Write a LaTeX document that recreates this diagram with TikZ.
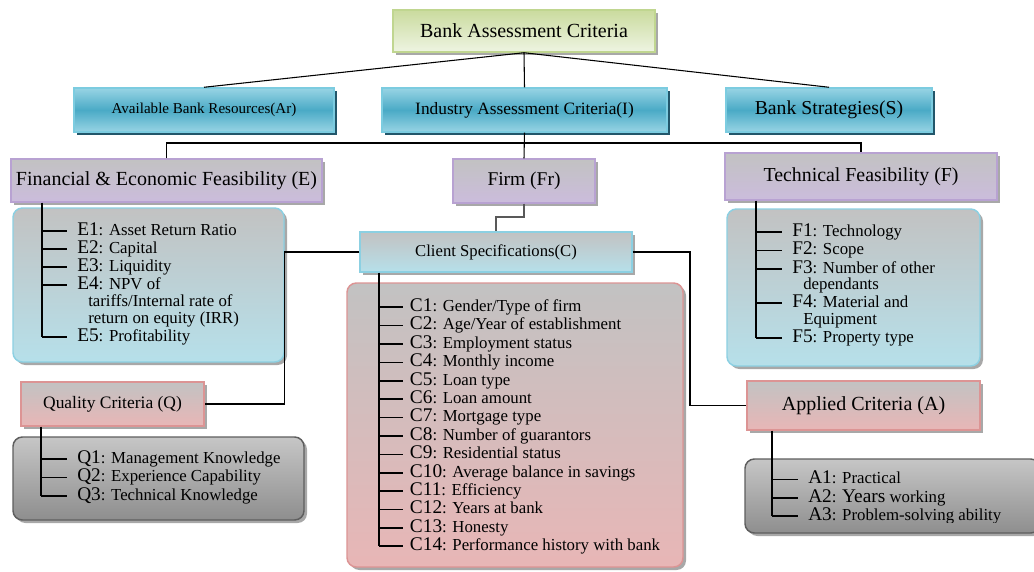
\documentclass[tikz,border=0pt]{standalone}
\usepackage{fontspec}
\setmainfont{Liberation Serif}
\usetikzlibrary{shadows}
\definecolor{grB}{HTML}{C0D690}
\definecolor{grT}{HTML}{CADB9E}
\definecolor{grM}{HTML}{EEF4E2}
\definecolor{tlB}{HTML}{7CCCE0}
\definecolor{tlT}{HTML}{98D4E4}
\definecolor{tlM}{HTML}{4AAAC6}
\definecolor{cShTeal}{HTML}{22566A}
\definecolor{cShGray}{HTML}{A8A8A8}
\definecolor{puB}{HTML}{B8A2D2}
\definecolor{puT}{HTML}{C2C2C2}
\definecolor{puM}{HTML}{CBBCDC}
\definecolor{lbB}{HTML}{8CD0E2}
\definecolor{lbM}{HTML}{B6E0EA}
\definecolor{pkB}{HTML}{DC9494}
\definecolor{pkM}{HTML}{E8B6B6}
\definecolor{dkB}{HTML}{5E5E5E}
\definecolor{dkT}{HTML}{C6C6C6}
\definecolor{dkM}{HTML}{8E8E8E}
\newcommand\lbl[1]{{\fontsize{14.5}{15}\selectfont #1}}
\begin{document}
\begin{tikzpicture}[x=0.75pt,y=-0.75pt,
  bx/.style 2 args={minimum width=#1*0.75pt, minimum height=#2*0.75pt, inner sep=0pt},
  sh/.style={drop shadow={shadow xshift=2.25pt, shadow yshift=-2.25pt, fill=cShGray, opacity=1}},
  shT/.style={drop shadow={shadow xshift=2.25pt, shadow yshift=-2.25pt, fill=cShTeal, opacity=1}},
  hbox/.style={rectangle, line width=1.1pt, align=center},
  greenbox/.style={hbox, sh, draw=grB, top color=grT, bottom color=grM},
  tealbox/.style={hbox, shT, draw=tlB, top color=tlT, bottom color=tlT, middle color=tlM},
  purplebox/.style={hbox, sh, draw=puB, top color=puT, bottom color=puM},
  bluebox/.style={hbox, sh, draw=lbB, top color=puT, bottom color=lbM},
  pinkbox/.style={hbox, sh, draw=pkB, top color=puT, bottom color=pkM},
  lbox/.style={rectangle, rounded corners=7pt, line width=1.1pt, sh},
  bluelist/.style={lbox, draw=lbB, top color=puT, bottom color=lbM},
  pinklist/.style={lbox, draw=pkB, top color=puT, bottom color=pkM},
  darklist/.style={lbox, draw=dkB, top color=dkT, bottom color=dkM},
  conn/.style={draw=black, line width=0.8pt},
  itm/.style={anchor=west, inner xsep=7.5pt, inner ysep=0pt, text height=9pt, text depth=2.5pt, font=\fontsize{12.6}{14}\selectfont},
  cont/.style={itm, inner xsep=0pt}
]
\useasboundingbox (0,0) rectangle (1034,571);

% header boxes
\node[greenbox, bx={262}{42}, font=\fontsize{15}{16}\selectfont] (top) at (524,31) {Bank Assessment Criteria};
\node[tealbox, bx={260}{44}, font=\fontsize{11.3}{13}\selectfont] (Ar) at (204,110) {Available Bank Resources(Ar)};
\node[tealbox, bx={285}{44}, font=\fontsize{13}{15}\selectfont] (I) at (524.5,110) {Industry Assessment Criteria(I)};
\node[tealbox, bx={206}{44}, font=\fontsize{14.8}{16}\selectfont] (S) at (829,110) {Bank Strategies(S)};
\node[purplebox, bx={311}{43}, font=\fontsize{15}{16}\selectfont] (E) at (166.5,180.5) {Financial \& Economic Feasibility (E)};
\node[purplebox, bx={142}{44}, font=\fontsize{14.6}{16}\selectfont] (Fr) at (524,181) {Firm (Fr)};
\node[purplebox, bx={272}{47}, font=\fontsize{14.9}{16}\selectfont] (F) at (861,176.5) {Technical Feasibility (F)};

% list boxes
\node[bluelist, bx={271}{154}] (Elist) at (148.5,285) {};
\node[bluelist, bx={253}{157}] (Flist) at (853.5,287.5) {};
\node[pinklist, bx={336}{284}] (Clist) at (515,425) {};
\node[bluebox, bx={272}{40}, font=\fontsize{12.5}{14}\selectfont] (C) at (496,252) {Client Specifications(C)};
\node[pinkbox, bx={183}{44}, font=\fontsize{13.1}{15}\selectfont] (Q) at (112.5,404) {Quality Criteria (Q)};
\node[pinkbox, bx={233}{49}, font=\fontsize{15}{16}\selectfont] (A) at (863.5,405.5) {Applied Criteria (A)};
\node[darklist, bx={291}{83}] (Qlist) at (158.5,478.5) {};
\node[darklist, bx={295}{74}] (Alist) at (892.5,496) {};

% connectors
\coordinate (bus) at (0,143);
\coordinate (FCy) at (0,217);
\coordinate (CAx) at (690,0);
\draw[conn] (top.south) -- (Ar.north);
\draw[conn] (top.south) -- (I.north);
\draw[conn] (top.south) -- (S.north);
\draw[conn] (I.south) -- (Fr.north);
\draw[conn] (E.north) -- (E.north |- bus) -- (F.north |- bus) -- (F.north);
\draw[conn, draw=black!65] (Fr.south) -- (Fr.south |- FCy) -| (C.north);
\draw[conn] (C.west) -| (Elist.east |- Q.east) -- (Q.east);
\draw[conn] (C.east) -| (CAx |- A.west) -- (A.west);

% E items
\coordinate (Etr) at (42,0);
\node[itm] (e1) at (67,231) {\lbl{E1}: Asset Return Ratio};
\node[itm] (e2) at (67,249) {\lbl{E2}: Capital};
\node[itm] (e3) at (67,267) {\lbl{E3}: Liquidity};
\node[itm] (e4) at (67,285) {\lbl{E4}: NPV of};
\node[cont] (e4b) at (88,302) {tariffs/Internal rate of};
\node[cont] (e4c) at (88,319) {return on equity (IRR)};
\node[itm] (e5) at (67,337) {\lbl{E5}: Profitability};
\draw[conn] (E.south -| Etr) -- (Etr |- e5);
\foreach \n in {e1,e2,e3,e4,e5} \draw[conn] (Etr |- \n) -- (\n.west);

% F items
\coordinate (Ftr) at (756,0);
\node[itm] (f1) at (782,232) {\lbl{F1}: Technology};
\node[itm] (f2) at (782,250.5) {\lbl{F2}: Scope};
\node[itm] (f3) at (782,269) {\lbl{F3}: Number of other};
\node[cont] (f3b) at (803,285.5) {dependants};
\node[itm] (f4) at (782,303) {\lbl{F4}: Material and};
\node[cont] (f4b) at (803,320) {Equipment};
\node[itm] (f5) at (782,338) {\lbl{F5}: Property type};
\draw[conn] (F.south -| Ftr) -- (Ftr |- f5);
\foreach \n in {f1,f2,f3,f4,f5} \draw[conn] (Ftr |- \n) -- (\n.west);

% C items
\coordinate (Ctr) at (379,0);
\begin{scope}[every node/.style={itm, inner xsep=5pt}]
\node (c1) at (403,307) {\lbl{C1}: Gender/Type of firm};
\node (c2) at (403,325.5) {\lbl{C2}: Age/Year of establishment};
\node (c3) at (403,344) {\lbl{C3}: Employment status};
\node (c4) at (403,362.5) {\lbl{C4}: Monthly income};
\node (c5) at (403,381) {\lbl{C5}: Loan type};
\node (c6) at (403,399) {\lbl{C6}: Loan amount};
\node (c7) at (403,417.5) {\lbl{C7}: Mortgage type};
\node (c8) at (403,436) {\lbl{C8}: Number of guarantors};
\node (c9) at (403,454.5) {\lbl{C9}: Residential status};
\node (c10) at (403,473) {\lbl{C10}: Average balance in savings};
\node (c11) at (403,491) {\lbl{C11}: Efficiency};
\node (c12) at (403,509.5) {\lbl{C12}: Years at bank};
\node (c13) at (403,528) {\lbl{C13}: Honesty};
\node (c14) at (403,546) {\lbl{C14}: Performance history with bank};
\end{scope}
\draw[conn] (C.south -| Ctr) -- (Ctr |- c14);
\foreach \n in {c1,c2,c3,c4,c5,c6,c7,c8,c9,c10,c11,c12,c13,c14} \draw[conn] (Ctr |- \n) -- (\n.west);

% Q items
\coordinate (Qtr) at (41,0);
\node[itm] (q1) at (67,459) {\lbl{Q1}: Management Knowledge};
\node[itm] (q2) at (67,477.5) {\lbl{Q2}: Experience Capability};
\node[itm] (q3) at (67,496) {\lbl{Q3}: Technical Knowledge};
\draw[conn] (Q.south -| Qtr) -- (Qtr |- q3);
\foreach \n in {q1,q2,q3} \draw[conn] (Qtr |- \n) -- (\n.west);

% A items
\coordinate (Atr) at (772,0);
\begin{scope}
\clip (740,455) rectangle (1040,522);
\node[itm] (a1) at (798,479.5) {\lbl{A1}: Practical};
\node[itm] (a2) at (798,498) {\lbl{A2}: \lbl{Years} working};
\node[itm] (a3) at (798,516) {\lbl{A3}: Problem-solving ability};
\end{scope}
\draw[conn] (A.south -| Atr) -- (Atr |- a3);
\foreach \n in {a1,a2,a3} \draw[conn] (Atr |- \n) -- (\n.west);
\end{tikzpicture}
\end{document}
